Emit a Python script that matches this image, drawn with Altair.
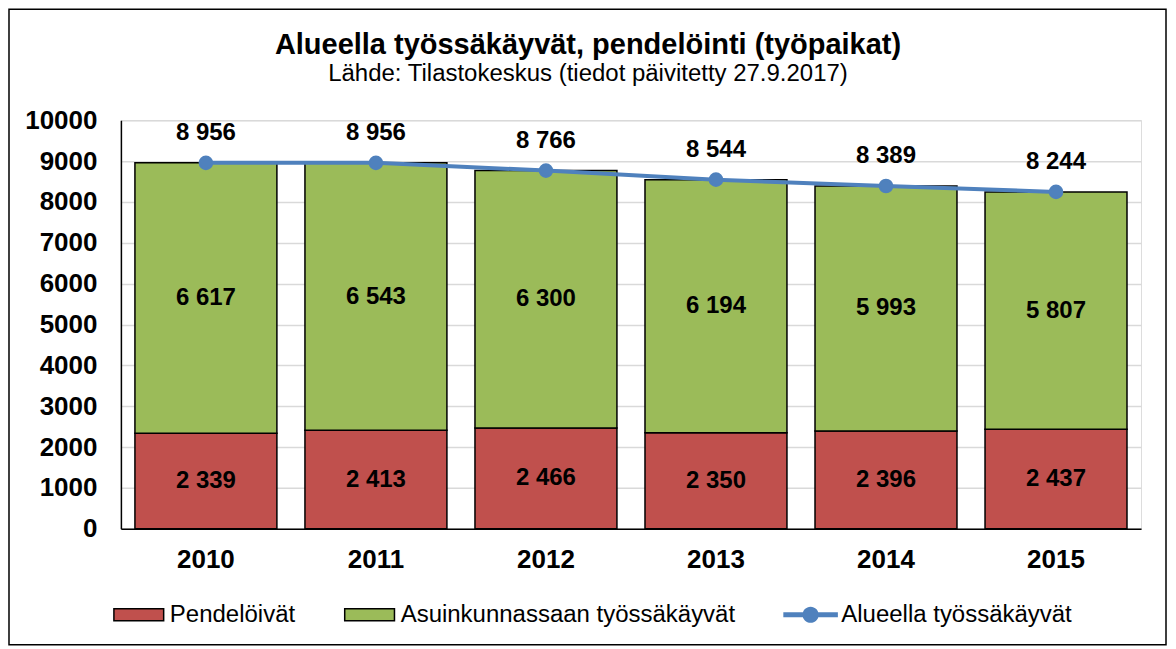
import altair as alt
import pandas as pd

years = ["2010", "2011", "2012", "2013", "2014", "2015"]
pendeloivat = [2339, 2413, 2466, 2350, 2396, 2437]
asuinkunnassa = [6617, 6543, 6300, 6194, 5993, 5807]
alueella = [8956, 8956, 8766, 8544, 8389, 8244]
y_ticks = [0, 1000, 2000, 3000, 4000, 5000, 6000, 7000, 8000, 9000, 10000]

S_RED = "Pendelöivät"
S_GREEN = "Asuinkunnassaan työssäkäyvät"
S_LINE = "Alueella työssäkäyvät"
TITLE = "Alueella työssäkäyvät, pendelöinti (työpaikat)"
SUBTITLE = "Lähde: Tilastokeskus (tiedot päivitetty 27.9.2017)"

RED, GREEN, BLUE = "#C0504D", "#9BBB59", "#4F81BD"
FONT = "Liberation Sans"

bars_df = pd.DataFrame({
    "year": years * 2,
    "series": [S_RED] * len(years) + [S_GREEN] * len(years),
    "value": pendeloivat + asuinkunnassa,
    "order": [0] * len(years) + [1] * len(years),
})
line_df = pd.DataFrame({"year": years, "series": [S_LINE] * len(years), "value": alueella})
frame_df = pd.DataFrame({"f": [0]})

x_enc = alt.X(
    "year:N", title=None,
    scale=alt.Scale(paddingInner=0.165, paddingOuter=0.0825),
    axis=alt.Axis(labelFontSize=26, labelFontWeight="bold", labelColor="black",
                  labelFont=FONT, ticks=False, domainColor="black", domainWidth=1.5,
                  labelPadding=18, labelAngle=0, grid=False),
)
y_scale = alt.Scale(domain=[0, 10000], nice=False)
y_axis = alt.Axis(values=y_ticks, format="d", title=None, labelFontSize=26,
                  labelFontWeight="bold", labelColor="black", labelFont=FONT,
                  ticks=False, domainColor="black", domainWidth=1.5, labelPadding=24,
                  grid=True, gridColor="#D9D9D9", gridWidth=1.5)

RECT_PATH = "M-1,-1 H7.3 V1 H-1 Z"
LINE_PATH = ("M-1,-0.4 H8.1 V0.4 H-1 Z "
             "M4.9,0 A1.35,1.35 0 1 1 2.2,0 A1.35,1.35 0 1 1 4.9,0 Z")

bar_color = alt.Color(
    "series:N",
    scale=alt.Scale(domain=[S_RED, S_GREEN], range=[RED, GREEN]),
    legend=alt.Legend(
        title=None, orient="none", legendX=-13, legendY=483, direction="horizontal",
        columns=2, columnPadding=43, labelFontSize=24, labelFont=FONT,
        labelColor="black", labelOffset=38, labelLimit=0, symbolSize=144,
        symbolType=RECT_PATH, symbolStrokeColor="black", symbolStrokeWidth=1.5,
        symbolOpacity=1,
    ),
)
line_stroke = alt.Stroke(
    "series:N",
    scale=alt.Scale(domain=[S_LINE], range=[BLUE]),
    legend=alt.Legend(
        title=None, orient="none", legendX=657, legendY=483, direction="horizontal",
        labelFontSize=24, labelFont=FONT, labelColor="black", labelOffset=40,
        labelLimit=0, symbolSize=144, symbolType=LINE_PATH, symbolFillColor=BLUE,
        symbolStrokeWidth=0, symbolOpacity=1,
    ),
)

frame = alt.Chart(frame_df).mark_rect(fillOpacity=0, stroke="black", strokeWidth=1.5).encode(
    x=alt.value(-112), x2=alt.value(1046), y=alt.value(-111), y2=alt.value(525)
)

bars = alt.Chart(bars_df).mark_bar(stroke="black", strokeWidth=1.5).encode(
    x=x_enc,
    y=alt.Y("value:Q", stack="zero", scale=y_scale, axis=y_axis),
    color=bar_color,
    order=alt.Order("order:Q"),
)

seg_labels = alt.Chart(bars_df).transform_stack(
    stack="value", groupby=["year"], as_=["v0", "v1"], sort=[alt.SortField("order")]
).transform_calculate(
    mid="(datum.v0 + datum.v1) / 2",
    label="replace(format(datum.value, ','), ',', ' ')",
).mark_text(fontSize=24, fontWeight="bold", font=FONT, color="black", baseline="middle").encode(
    x=alt.X("year:N"), y=alt.Y("mid:Q"), text="label:N"
)

line = alt.Chart(line_df).mark_line(
    strokeWidth=4, point=alt.OverlayMarkDef(filled=True, size=160, color=BLUE, stroke=BLUE)
).encode(x=alt.X("year:N"), y=alt.Y("value:Q"), stroke=line_stroke)

tot_labels = alt.Chart(line_df).transform_calculate(
    label="replace(format(datum.value, ','), ',', ' ')"
).mark_text(fontSize=24, fontWeight="bold", font=FONT, color="black", baseline="middle", dy=-30).encode(
    x=alt.X("year:N"), y=alt.Y("value:Q"), text="label:N"
)

chart = alt.layer(frame, bars, line, seg_labels, tot_labels).properties(
    width=1021, height=409,
    title=alt.TitleParams(text=TITLE, subtitle=SUBTITLE, fontSize=29, font=FONT,
                          fontWeight="bold", color="black", subtitleFont=FONT,
                          subtitleFontSize=24, subtitleColor="black", anchor="middle",
                          dx=-43, offset=-78, subtitlePadding=2),
    autosize=alt.AutoSizeParams(type="none"),
    padding={"left": 113, "top": 112, "right": 27, "bottom": 118},
).resolve_scale(color="independent").configure_view(stroke=None).configure(background="white")

chart.save("out.html", embed_options={"renderer": "svg", "actions": False})
